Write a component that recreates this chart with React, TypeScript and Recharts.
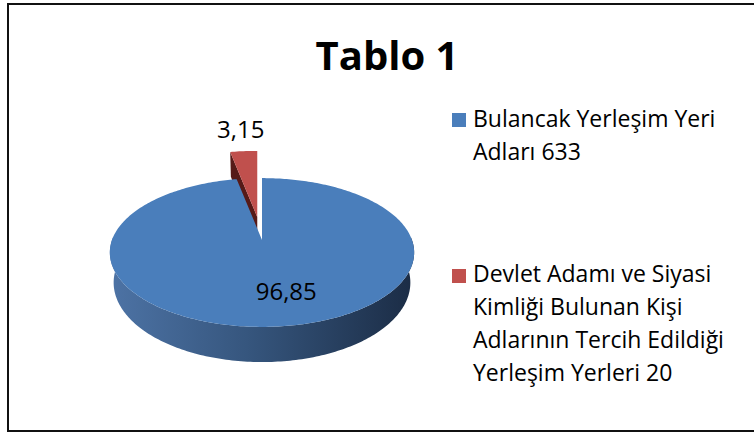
import React from 'react';
import { PieChart, Pie, Legend } from 'recharts';

// categories (legend text, with the line breaks of the original) and pie shares
const categories = [
  'Bulancak Yerleşim Yeri\nAdları 633',
  'Devlet Adamı ve Siyasi\nKimliği Bulunan Kişi\nAdlarının Tercih Edildiği\nYerleşim Yerleri 20',
];
const shares = [96.85, 3.15];

const topColors = ['#4A7EBB', '#C0504D'];
const faceColors = ['#2B4568', '#561A18'];
const explode = [0, 0.32]; // red slice is pulled out

// pie is drawn back-to-front, so the small slice goes first and angles run counter-clockwise from 12 o'clock
const pieData = categories.map((name, i) => ({ name, value: shares[i], idx: i })).reverse();

const FONT = '"Open Sans", "DejaVu Sans", sans-serif';
const RAD = Math.PI / 180;
const TILT = 0.482;
const DEPTH = 0.195;
const PERSP = 0.168;
const BASE_SHRINK = 0.975;

const project = (cx: number, cy: number, r: number, u: number, v: number, bottom: boolean) => {
  const p = 1 / (1 - PERSP * v);
  const s = bottom ? BASE_SHRINK : 1;
  return [cx + r * u * p * s, cy + r * TILT * v * p + (bottom ? r * DEPTH * p : 0)];
};

const rim = (deg: number) => [Math.cos(deg * RAD), -Math.sin(deg * RAD)];

const sampleArc = (lo: number, hi: number) => {
  const n = Math.max(2, Math.ceil(hi - lo));
  return Array.from({ length: n + 1 }, (_, k) => lo + ((hi - lo) * k) / n);
};

const toPath = (pts: number[][]) =>
  pts.map((p, k) => `${k ? 'L' : 'M'}${p[0].toFixed(2)},${p[1].toFixed(2)}`).join(' ') + ' Z';

const renderSlice = (props: any) => {
  const { cx, cy, outerRadius, startAngle, endAngle } = props;
  const i = props.payload?.idx ?? props.idx ?? 0;
  const lo = Math.min(startAngle, endAngle);
  const hi = Math.max(startAngle, endAngle);
  const mid = (lo + hi) / 2;
  const r = outerRadius;

  // exploded slices are also drawn a little larger, as Excel does
  const e = explode[i];
  const grow = 1 + e * 0.25;
  const dx = e * r * Math.cos(mid * RAD);
  const dy = -e * r * TILT * Math.sin(mid * RAD);
  const P = (u: number, v: number, bottom: boolean) => {
    const q = project(cx, cy, r, u * grow, v * grow, bottom);
    return [q[0] + dx, q[1] + dy];
  };

  const angles = sampleArc(lo, hi);
  const top = [P(0, 0, false), ...angles.map((a) => P(rim(a)[0], rim(a)[1], false))];

  // outer wall, only the part that faces the viewer
  const front = angles.filter((a) => Math.sin(a * RAD) <= 0.05);
  const wall =
    front.length > 1
      ? [
          ...front.map((a) => P(rim(a)[0], rim(a)[1], false)),
          ...[...front].reverse().map((a) => P(rim(a)[0], rim(a)[1], true)),
        ]
      : null;

  // cut faces along the radii
  const faces: number[][][] = [];
  [
    [lo, lo - 90],
    [hi, hi + 90],
  ].forEach(([b, n]) => {
    if (Math.sin(n * RAD) < -0.02) {
      const [u, v] = rim(b);
      faces.push([P(0, 0, false), P(u, v, false), P(u, v, true), P(0, 0, true)]);
    }
  });

  const label = shares[i].toFixed(2).replace('.', ',');
  let lx: number;
  let ly: number;
  if (shares[i] < 10) {
    const o = P(rim(mid)[0], rim(mid)[1], false);
    lx = o[0] - 3;
    ly = o[1] - 13;
  } else {
    const o = P(rim(mid)[0] * 0.62, rim(mid)[1] * 0.62, false);
    lx = o[0] + 14;
    ly = o[1] + 10;
  }

  return (
    <g key={`slice-${i}`}>
      {faces.map((f, k) => (
        <path key={k} d={toPath(f)} fill={faceColors[i]} />
      ))}
      {wall && <path d={toPath(wall)} fill={i === 0 ? 'url(#blueWall)' : faceColors[i]} />}
      <path d={toPath(top)} fill={topColors[i]} />
      <text x={lx} y={ly} textAnchor="middle" fontFamily={FONT} fontSize={24} fill="#000">
        {label}
      </text>
    </g>
  );
};

const renderLegend = (props: any) => {
  const items = [...(props.payload ?? [])].sort(
    (a: any, b: any) => categories.indexOf(a.value) - categories.indexOf(b.value)
  );
  return (
    <div style={{ fontFamily: FONT, fontSize: 23, lineHeight: '33px', color: '#000' }}>
      {items.map((item: any, k: number) => {
        const i = categories.indexOf(item.value);
        return (
          <div key={k} style={{ position: 'relative', paddingLeft: 21, marginBottom: k === 0 ? 89.7 : 0 }}>
            <span
              style={{
                position: 'absolute',
                left: 0,
                top: 11.4,
                width: 14,
                height: 14,
                background: topColors[i],
              }}
            />
            {String(item.value)
              .split('\n')
              .map((line: string, j: number) => (
                <div key={j} style={{ whiteSpace: 'nowrap' }}>
                  {line}
                </div>
              ))}
          </div>
        );
      })}
    </div>
  );
};

export default function App() {
  return (
    <div style={{ position: 'absolute', left: 0, top: 0, width: 754, height: 434, overflow: 'hidden', background: '#fff' }}>
      <div
        style={{
          position: 'absolute',
          left: 6.5,
          top: 2.5,
          width: 800,
          height: 425,
          border: '2.5px solid #111',
        }}
      />
      <div style={{ position: 'absolute', left: 0, top: 0 }}>
        <PieChart width={754} height={434} margin={{ top: 0, right: 0, bottom: 0, left: 0 }}>
          <defs>
            <linearGradient id="blueWall" x1="0" y1="0" x2="1" y2="0">
              <stop offset="0%" stopColor="#4D73A5" />
              <stop offset="45%" stopColor="#36567E" />
              <stop offset="100%" stopColor="#1B2C45" />
            </linearGradient>
          </defs>
          <Pie
            data={pieData}
            dataKey="value"
            nameKey="name"
            cx={262}
            cy={240}
            outerRadius={150}
            startAngle={90}
            endAngle={450}
            fill="none"
            stroke="none"
            labelLine={false}
            label={renderSlice}
            isAnimationActive={false}
          />
          <Legend
            layout="vertical"
            align="right"
            verticalAlign="top"
            content={renderLegend}
            wrapperStyle={{ left: 452, top: 101.6, right: 'auto', width: 300 }}
          />
        </PieChart>
      </div>
      <svg width={754} height={434} style={{ position: 'absolute', left: 0, top: 0, pointerEvents: 'none' }}>
        <text x={387} y={70} textAnchor="middle" fontFamily={FONT} fontWeight={700} fontSize={40} fill="#000">
          Tablo 1
        </text>
      </svg>
    </div>
  );
}
